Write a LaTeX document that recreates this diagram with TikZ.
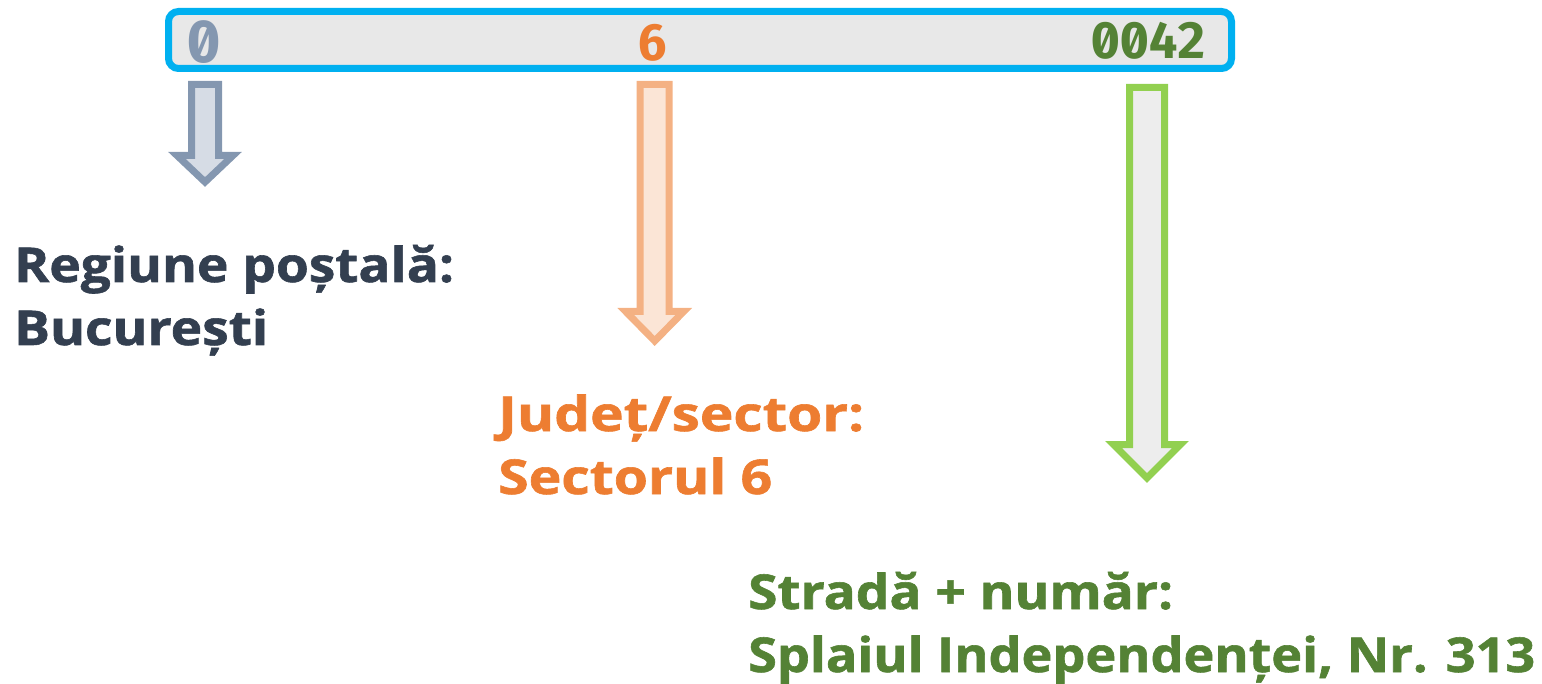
\documentclass[tikz,border=0pt]{standalone}
\usepackage{fontspec}
\usepackage{graphicx}
\setmainfont{Open Sans}[BoldFeatures={FakeBold=1.2}]
\newfontfamily\digitfont{Fira Sans}[RawFeature={+zero,+tnum}]
\definecolor{codeblue}{HTML}{00B0F0}
\definecolor{codefill}{HTML}{E8E8E8}
\definecolor{slate}{HTML}{8497B0}
\definecolor{slatefill}{HTML}{D6DCE5}
\definecolor{navy}{HTML}{333F50}
\definecolor{orangetxt}{HTML}{ED7D31}
\definecolor{orangeline}{HTML}{F4B183}
\definecolor{orangefill}{HTML}{FBE5D6}
\definecolor{greentxt}{HTML}{548235}
\definecolor{greenline}{HTML}{92D050}
\definecolor{greenfill}{HTML}{EDEDED}
\newcommand\capfont{\bfseries\fontsize{48}{63}\selectfont}
% set a caption line to a given width, keeping its height
\newcommand\fitline[2]{\resizebox{#1pt}{\height}{#2}}
\tikzset{
  codebox/.style={draw=codeblue, fill=codefill, line width=7pt, rounded corners=10pt},
  digit/.style={font=\digitfont\bfseries\fontsize{51}{51}\selectfont, inner sep=0pt, anchor=base},
  caption/.style={font=\capfont, align=left, inner sep=0pt, anchor=base west},
  blockarrow/.style={line width=7pt, line join=miter}
}
% down-pointing block arrow: centre x, top y, shaft half width, head half width, head base y, tip y
\newcommand\downblock[7][]{%
  \draw[blockarrow,#1] (#2-#4,#3) -- (#2+#4,#3) -- (#2+#4,#6) -- (#2+#5,#6)
    -- (#2,#7) -- (#2-#5,#6) -- (#2-#4,#6) -- cycle;}
\begin{document}
\begin{tikzpicture}[x=1pt,y=-1pt]
\useasboundingbox (0,0) rectangle (1542,684);
% postal code bar
\draw[codebox] (168.5,11.5) rectangle (1231.5,68.5);
\node[digit, text=slate, font=\digitfont\bfseries\fontsize{59}{59}\selectfont] (d0) at (204.5,63) {0};
\node[digit, text=orangetxt] (d6) at (653,61) {6};
\node[digit, text=greentxt] (d42) at (1149,59) {0042};
% arrows
\downblock[draw=slate, fill=slatefill]{205}{84.5}{13.5}{28}{155.5}{182}
\downblock[draw=orangeline, fill=orangefill]{654.7}{84.5}{14.5}{29}{311.5}{341}
\downblock[draw=greenline, fill=greenfill]{1147}{87.5}{17.5}{33.5}{444.5}{478}
% captions (anchored on the baseline of the second line)
\node[caption, text=navy] (reg) at (14,345)
  {\fitline{440}{Regiune poștală:}\\\fitline{254}{București}};
\node[caption, text=orangetxt] (jud) at (498,494)
  {\fitline{366}{Județ/sector:}\\\fitline{274}{Sectorul 6}};
\node[caption, text=greentxt] (str) at (748,672)
  {\fitline{425}{Stradă + număr:}\\\fitline{787}{Splaiul Independenței, Nr. 313}};
\end{tikzpicture}
\end{document}
